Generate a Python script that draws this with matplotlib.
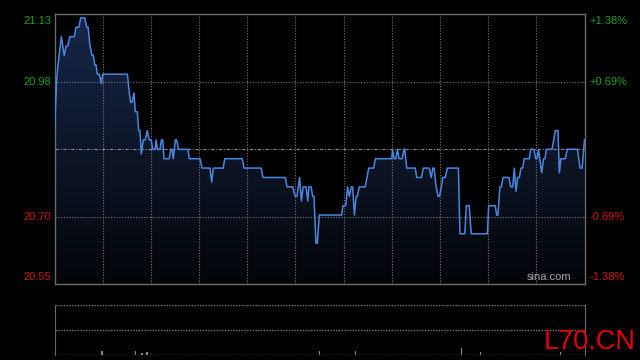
import numpy as np
import matplotlib
matplotlib.use("Agg")
import matplotlib.pyplot as plt
from matplotlib.colors import LinearSegmentedColormap

plt.rcParams["font.family"] = ["Liberation Sans", "DejaVu Sans"]

# ------------------------------------------------------------
# Data
# ------------------------------------------------------------
prev_close = 20.84
pct_ticks = [1.38, 0.69, -0.69, -1.38]
price_labels = ["21.13", "20.98", "20.70", "20.55"]
pct_labels = ["+1.38%", "+0.69%", "-0.69%", "-1.38%"]

# minute index (0..240) and price at each vertex of the intraday line
times = [
    0, 1, 1.6, 3.1, 4.4, 5.2, 6, 6.9, 9, 9.7,
    11, 11.9, 13.7, 14.6, 15.2, 16.1, 17, 17.6, 18.2, 18.8,
    19.4, 20.3, 21.2, 21.8, 33, 33.9, 34.5, 35.1, 36, 36.6,
    37.5, 38.1, 38.7, 39.3, 40.2, 41.1, 42, 42.9, 43.8, 44.5,
    45.6, 46, 46.6, 47.8, 48.4, 49, 49.6, 52, 52.6, 53.2,
    53.8, 54.7, 55.3, 56.2, 60.5, 61, 65.9, 66.8, 70.4, 71.2,
    71.9, 76.4, 77.1, 85, 85.8, 93.6, 94.4, 104.5, 105.3, 107.9,
    108.9, 109.8, 111, 111.8, 112.6, 113.9, 114.7, 115.2, 116.2, 116.9,
    117.5, 118.4, 119, 119.9, 130, 130.6, 131.9, 132.7, 133.5, 134.4,
    135, 135.8, 136.6, 137.2, 138, 140.7, 142.3, 144.5, 145.3, 152.7,
    153.1, 153.8, 154.6, 155.3, 156, 157.4, 158.2, 158.6, 159.5, 163.4,
    164, 166.2, 167, 169.7, 170.6, 171.3, 171.9, 172.8, 173.7, 174.3,
    175.2, 175.8, 177, 177.9, 182.9, 183.6, 185.8, 186.5, 187.8, 188.7,
    196, 196.6, 199.6, 200.2, 200.8, 201.7, 202.3, 203.1, 205.8, 206.6,
    207.5, 208.2, 209, 209.7, 210.5, 211.2, 212, 212.7, 215, 215.6,
    217.1, 217.9, 218.6, 219.2, 220.6, 221.5, 222.1, 222.7, 225.3, 226.8,
    228, 228.6, 229.3, 231.3, 232.2, 236.8, 238, 238.9, 240,
]
prices = [
    20.88, 20.99, 21.02, 21.08, 21.04, 21.06, 21.06, 21.08, 21.08, 21.10,
    21.10, 21.12, 21.12, 21.10, 21.10, 21.06, 21.04, 21.04, 21.02, 21.02,
    21.00, 21.00, 20.98, 21.00, 21.00, 20.96, 20.94, 20.94, 20.96, 20.92,
    20.92, 20.88, 20.88, 20.83, 20.86, 20.86, 20.88, 20.86, 20.86, 20.84,
    20.84, 20.86, 20.84, 20.84, 20.86, 20.86, 20.82, 20.82, 20.84, 20.84,
    20.82, 20.86, 20.86, 20.84, 20.84, 20.82, 20.82, 20.80, 20.80, 20.77,
    20.80, 20.80, 20.82, 20.82, 20.80, 20.80, 20.78, 20.78, 20.76, 20.76,
    20.74, 20.74, 20.78, 20.73, 20.76, 20.76, 20.73, 20.76, 20.76, 20.74,
    20.74, 20.64, 20.64, 20.70, 20.70, 20.72, 20.72, 20.76, 20.74, 20.76,
    20.76, 20.70, 20.74, 20.74, 20.76, 20.76, 20.80, 20.80, 20.82, 20.82,
    20.84, 20.82, 20.82, 20.84, 20.82, 20.82, 20.84, 20.84, 20.80, 20.80,
    20.78, 20.78, 20.80, 20.80, 20.78, 20.80, 20.80, 20.76, 20.74, 20.74,
    20.76, 20.78, 20.78, 20.80, 20.80, 20.66, 20.66, 20.72, 20.72, 20.66,
    20.66, 20.72, 20.72, 20.70, 20.70, 20.76, 20.76, 20.78, 20.78, 20.76,
    20.76, 20.80, 20.75, 20.78, 20.78, 20.80, 20.80, 20.82, 20.82, 20.84,
    20.84, 20.82, 20.82, 20.84, 20.79, 20.82, 20.82, 20.84, 20.84, 20.88,
    20.88, 20.79, 20.82, 20.82, 20.84, 20.84, 20.80, 20.80, 20.86,
]
assert len(times) == len(prices)

# a few visible volume bars (arbitrary units)
vol_times = [0.5, 21.5, 36.5, 39.6, 41.9, 120.2, 136.5, 184.4, 193.1, 229.2]
vol_values = [6, 4, 4, 2, 3, 4, 4, 7, 3, 3]

# ------------------------------------------------------------
# Plot
# ------------------------------------------------------------
bg = "black"
frame_c = "#6a6a6a"
grid_c = "#7a7a7a"
green = "#1fa01f"
red = "#d01515"

fig = plt.figure(figsize=(6.4, 3.6), dpi=100, facecolor=bg)
ax = fig.add_axes([54.5 / 640, 1 - 284.3 / 360, 530 / 640, 270 / 360], facecolor=bg)
ax_v = fig.add_axes([54.5 / 640, 1 - 355 / 360, 530 / 640, 50 / 360], facecolor=bg)

ymax = prev_close * (1 + pct_ticks[0] / 100)
ymin = prev_close * (1 + pct_ticks[-1] / 100)
ax.set_xlim(0, 240)
ax.set_ylim(ymin, ymax)

# gradient fill below the line
fill = ax.fill_between(times, prices, ymin, color="none", lw=0)
cmap = LinearSegmentedColormap.from_list("navy", ["#030508", "#17274a"])
grad = np.linspace(0, 1, 256).reshape(-1, 1)
img = ax.imshow(grad, extent=[0, 240, ymin, ymax], origin="lower", aspect="auto",
                cmap=cmap, zorder=1)
img.set_clip_path(fill.get_paths()[0], transform=ax.transData)

# grid (drawn over the fill, under the line)
for k in range(1, 11):
    ax.axvline(k * 240 / 11, color=grid_c, lw=0.8, ls=(0, (1, 1.5)), zorder=2)
for p in (pct_ticks[1], pct_ticks[2]):
    ax.axhline(prev_close * (1 + p / 100), color=grid_c, lw=0.8, ls=(0, (1, 1.5)), zorder=2)
ax.axhline(prev_close, color="#8c8c8c", lw=0.8, ls=(0, (3, 1.5, 1, 1.5)), zorder=2)

ax.plot(times, prices, color="#4a88e0", lw=1.1, zorder=3)

ax.set_xticks([])
ax.set_yticks([])
for s in ax.spines.values():
    s.set_color(frame_c)
    s.set_linewidth(1)

# axis labels
trans_l = ax.get_yaxis_transform()
for i, (p, lab, plab) in enumerate(zip(pct_ticks, price_labels, pct_labels)):
    y = prev_close * (1 + p / 100)
    c = green if p > 0 else red
    va = "center"
    if i == 0:
        va = "top"
    elif i == len(pct_ticks) - 1:
        va = "bottom"
    off = {"top": -2, "bottom": 2, "center": 0}[va]
    ax.annotate(lab, (0, y), xycoords=trans_l, xytext=(-3.5, off), textcoords="offset pixels",
                ha="right", va=va, color=c, fontsize=8)
    ax.annotate(plab, (1, y), xycoords=trans_l, xytext=(5, off), textcoords="offset pixels",
                ha="left", va=va, color=c, fontsize=8)

ax.text(0.975, 0.008, "sina.com", transform=ax.transAxes, ha="right", va="bottom",
        color="#a8a8a8", fontsize=8, zorder=4)

# volume panel
ax_v.set_xlim(0, 240)
ax_v.set_ylim(0, 50)
ax_v.bar(vol_times, vol_values, width=0.5, color="#8a8a8a", zorder=2)
ax_v.set_xticks([])
ax_v.set_yticks([])
ax_v.spines["left"].set_color(frame_c)
ax_v.spines["right"].set_color(frame_c)
ax_v.spines["top"].set_visible(False)
ax_v.spines["bottom"].set_visible(False)
for yv in (0.3, 25, 49.7):
    ax_v.axhline(yv, color=grid_c, lw=1, ls=(0, (1, 1)), zorder=1)

fig.text(544 / 640, 1 - 349 / 360, "L70.CN", color="#e60000", fontsize=19.5,
         ha="left", va="baseline")

fig.savefig("out.png", dpi=100, facecolor=bg)
